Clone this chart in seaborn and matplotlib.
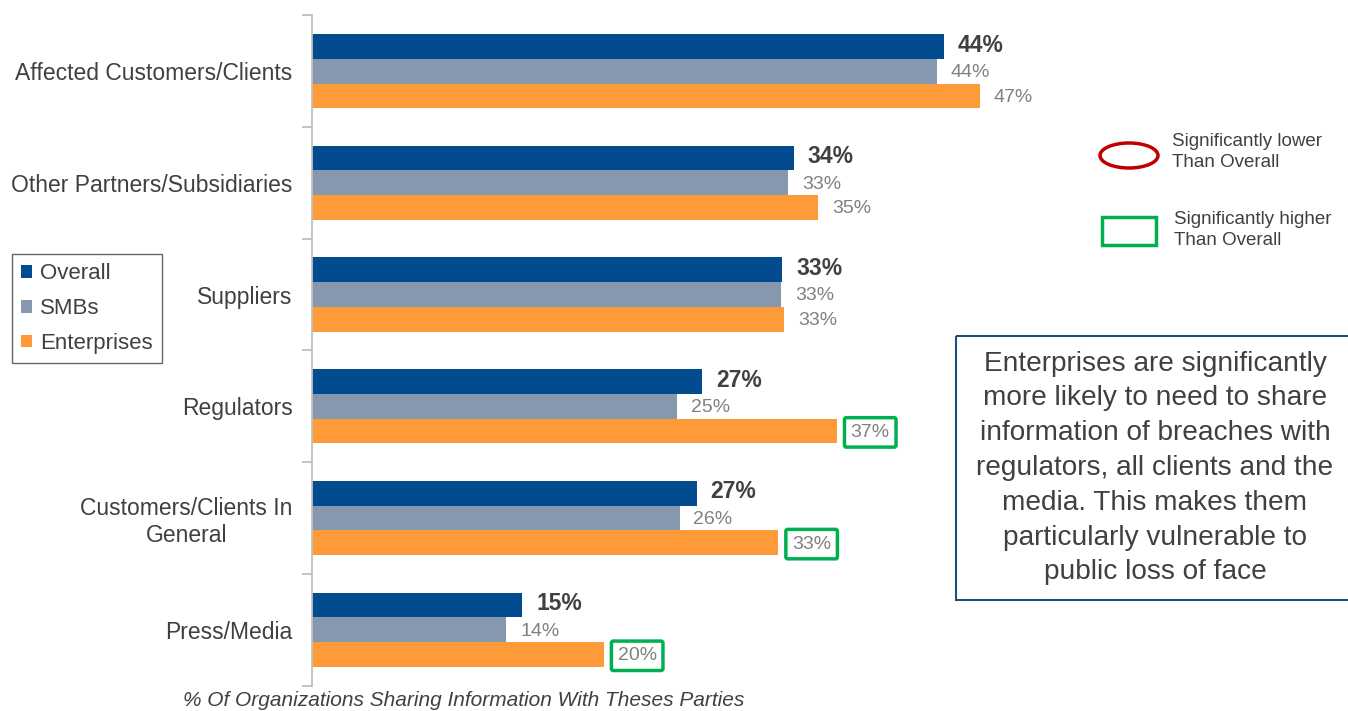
import numpy as np
import pandas as pd
import seaborn as sns
import matplotlib
matplotlib.use("Agg")
import matplotlib.pyplot as plt
from matplotlib.patches import Ellipse, Rectangle

# ---------------- data ----------------
categories = ["Affected Customers/Clients", "Other Partners/Subsidiaries", "Suppliers",
              "Regulators", "Customers/Clients In\nGeneral", "Press/Media"]
series = ["Overall", "SMBs", "Enterprises"]
overall = [44.2, 33.7, 32.9, 27.3, 26.9, 14.7]
smbs = [43.7, 33.3, 32.8, 25.5, 25.7, 13.6]
enterprises = [46.7, 35.4, 33.0, 36.7, 32.6, 20.4]
labels_overall = ["44%", "34%", "33%", "27%", "27%", "15%"]
labels_smbs = ["44%", "33%", "33%", "25%", "26%", "14%"]
labels_ent = ["47%", "35%", "33%", "37%", "33%", "20%"]
sig_higher_ent = [False, False, False, True, True, True]
xlabel = "% Of Organizations Sharing Information With Theses Parties"
note = ("Enterprises are significantly\nmore likely to need to share\ninformation of breaches with\n"
        "regulators, all clients and the\nmedia. This makes them\nparticularly vulnerable to\npublic loss of face")

colors = {"Overall": "#024B8E", "SMBs": "#8598AD", "Enterprises": "#FE9A37"}

df = pd.DataFrame({
    "category": categories * 3,
    "series": [s for s in series for _ in categories],
    "value": overall + smbs + enterprises,
})

sns.set_theme(style="white")
plt.rcParams["font.family"] = ["Liberation Sans", "DejaVu Sans"]

W, H = 1348, 711
fig = plt.figure(figsize=(W / 100, H / 100), dpi=100)
ax_left, ax_right, ax_top, ax_bot = 312, 1027, 15.3, 685.5
ax = fig.add_axes([ax_left / W, 1 - ax_bot / H, (ax_right - ax_left) / W, (ax_bot - ax_top) / H])

sns.barplot(data=df, y="category", x="value", hue="series", order=categories,
            hue_order=series, palette=colors, orient="h", width=0.665,
            saturation=1, linewidth=0, ax=ax)

ax.set_xlim(0, 50)
ax.set_ylim(len(categories) - 0.5, -0.5)

# spines / ticks
for s in ["top", "right", "bottom"]:
    ax.spines[s].set_visible(False)
ax.spines["left"].set_color("#BFBFBF")
ax.spines["left"].set_linewidth(1.3)
ax.set_xticks([])
ax.set_xlabel("")
ax.set_ylabel("")
ax.tick_params(axis="y", which="major", length=0, pad=14, labelsize=16.5, labelcolor="#404040")
ax.set_yticks(np.arange(-0.5, len(categories) + 0.5, 1), minor=True)
ax.tick_params(axis="y", which="minor", length=7, width=1.3, color="#BFBFBF", left=True)
for t in ax.get_yticklabels():
    t.set_multialignment("center")

# value labels
containers = ax.containers
label_sets = [labels_overall, labels_smbs, labels_ent]
for si, (cont, labs) in enumerate(zip(containers, label_sets)):
    for bi, (bar, lab) in enumerate(zip(cont.patches, labs)):
        x = bar.get_width()
        y = bar.get_y() + bar.get_height() / 2
        if si == 0:
            ax.annotate(lab, (x, y), xytext=(10, 1), textcoords="offset points",
                        va="center", ha="left", fontsize=16.5, fontweight="bold",
                        color="#404040")
        else:
            kw = {}
            if si == 2 and sig_higher_ent[bi]:
                kw["bbox"] = dict(boxstyle="round,pad=0.32,rounding_size=0.1", fc="white",
                                  ec="#00B050", lw=2.5)
            ax.annotate(lab, (x, y), xytext=(10, -1), textcoords="offset points",
                        va="center", ha="left", fontsize=14, color="#808080", **kw)

# legend
leg = ax.legend(loc="upper left", bbox_to_anchor=(12 / W, 1 - 254 / H),
                bbox_transform=fig.transFigure, borderaxespad=0, fontsize=16,
                handlelength=0.5, handleheight=0.5, handletextpad=0.35,
                labelspacing=0.62, borderpad=0.42, fancybox=False, frameon=True)
leg.get_frame().set_edgecolor("#404040")
leg.get_frame().set_linewidth(1.0)
for t in leg.get_texts():
    t.set_color("#404040")

# overlay for annotations in pixel coords
ov = fig.add_axes([0, 0, 1, 1], zorder=5)
ov.set_xlim(0, W)
ov.set_ylim(H, 0)
ov.axis("off")
ov.patch.set_alpha(0)

ov.add_patch(Ellipse((1129, 155.5), 58, 25, fill=False, ec="#C00000", lw=2.5))
ov.text(1172, 152, "Significantly lower\nThan Overall", fontsize=13.5, color="#404040",
        va="center", ha="left", linespacing=1.3)
ov.add_patch(Rectangle((1102, 217), 54, 28, fill=False, ec="#00B050", lw=2.5))
ov.text(1174, 230, "Significantly higher\nThan Overall", fontsize=13.5, color="#404040",
        va="center", ha="left", linespacing=1.3)

ov.add_patch(Rectangle((955.5, 336), 420, 264, fill=False, ec="#1F4E79", lw=1.5))
ov.text(1155, 468, note, fontsize=20.2, color="#404040", ha="center", va="center",
        linespacing=1.44)

ov.text(464, 701, xlabel, fontsize=15, style="italic", color="#404040",
        ha="center", va="center")

fig.savefig("out.png", dpi=100)
